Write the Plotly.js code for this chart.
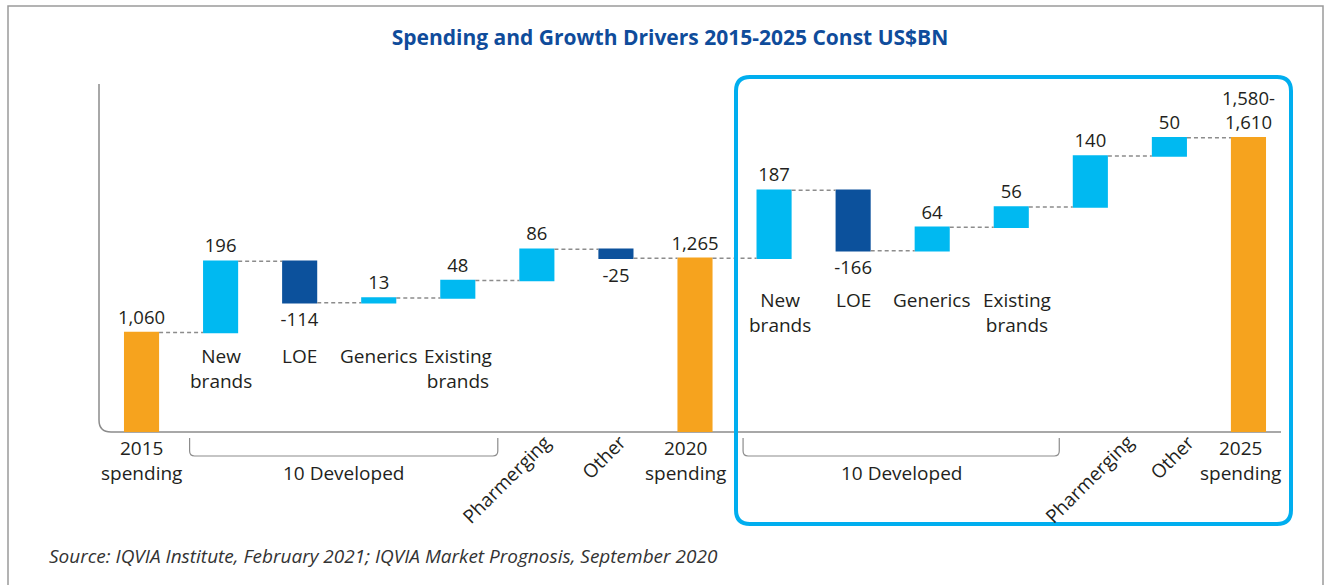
<!DOCTYPE html>
<html>
<head>
<meta charset="utf-8">
<script src="https://cdn.plot.ly/plotly-3.0.1.min.js"></script>
<style>html,body{margin:0;padding:0;background:#fff;}#chart{width:1335px;height:585px;}</style>
</head>
<body>
<div id="chart"></div>
<script>
// ---- data ----
const categories = ["2015\nspending","New\nbrands","LOE","Generics","Existing\nbrands","Pharmerging","Other","2020\nspending",
                    "New\nbrands","LOE","Generics","Existing\nbrands","Pharmerging","Other","2025\nspending"];
const measures = ["absolute","relative","relative","relative","relative","relative","relative","total",
                  "relative","relative","relative","relative","relative","relative","total"];
const values = [1060,196,-114,13,48,86,-25,1265,187,-166,64,56,140,50,1595];
const valueLabels = ["1,060","196","-114","13","48","86","-25","1,265","187","-166","64","56","140","50","1,580-<br>1,610"];
const labelPlacement = ["below","inner1","inner1","inner1","inner1","rotated","rotated","below",
                        "inner2","inner2","inner2","inner2","rotated","rotated","below"];
const groups = [{text:"10 Developed", from:1, to:4},{text:"10 Developed", from:8, to:11}];
const titleText = "Spending and Growth Drivers 2015-2025 Const US$BN";
const sourceText = "Source: IQVIA Institute, February 2021; IQVIA Market Prognosis, September 2020";

// ---- layout helpers (pixel -> paper) ----
const W = 1335, H = 585;
const M = {l:102, r:47, t:70, b:153};
const PW = W - M.l - M.r, PH = H - M.t - M.b;
const px = x => (x - M.l) / PW;
const py = y => (M.t + PH - y) / PH;
const n = categories.length;
const cx = i => M.l + (i + 0.5) * PW / n;

const txtColor = "#231f20";
const font = "Open Sans, sans-serif";
const catSize = 19;
// label horizontal nudges (pixels)
const nudge = {5:-30, 6:-12, 7:-10, 8:6, 10:0, 11:6, 12:-1, 13:3, 14:-8};

const trace = {
  type: "waterfall",
  x: categories.map((c, i) => i),
  y: values,
  measure: measures,
  text: valueLabels,
  textinfo: "text",
  textposition: "outside",
  constraintext: "none",
  cliponaxis: false,
  textfont: {family: font, size: 18.5, color: txtColor},
  increasing: {marker: {color: "#00b9f1"}},
  decreasing: {marker: {color: "#0c519c"}},
  totals: {marker: {color: "#f6a31e"}},
  connector: {mode: "between", line: {color: "#8c8c8c", width: 1.5, dash: "4px,3px"}},
  hoverinfo: "none"
};

const annotations = [];
categories.forEach((c, i) => {
  const t = c.replace("\n", "<br>");
  const kind = labelPlacement[i];
  const dx = nudge[i] || 0;
  if (kind === "below") {
    annotations.push({xref:"paper", yref:"paper", x:px(cx(i)+dx), y:py(433), xanchor:"center", yanchor:"top",
      text:t, showarrow:false, font:{family:font, size:catSize, color:txtColor}});
  } else if (kind === "inner1" || kind === "inner2") {
    const top = kind === "inner1" ? 341 : 285;
    annotations.push({xref:"paper", yref:"paper", x:px(cx(i)+dx), y:py(top), xanchor:"center", yanchor:"top",
      text:t, showarrow:false, font:{family:font, size:catSize, color:txtColor}});
  } else if (kind === "rotated") {
    const isOther = c === "Other";
    const y0 = isOther ? 457 : 479;
    annotations.push({xref:"paper", yref:"paper", x:px(cx(i)+dx), y:py(y0), xanchor:"center", yanchor:"middle",
      textangle:-45, text:t, showarrow:false, font:{family:font, size:catSize, color:txtColor}});
  }
});

const shapes = [];
// group brackets
groups.forEach((g, k) => {
  const l = cx(g.from) - 31, r = cx(g.to) + (k === 0 ? 40 : 48);
  const t = 438, b = 456, rad = 5;
  shapes.push({type:"path", xref:"paper", yref:"paper",
    path:`M ${px(l)},${py(t)} L ${px(l)},${py(b-rad)} Q ${px(l)},${py(b)} ${px(l+rad)},${py(b)} L ${px(r-rad)},${py(b)} Q ${px(r)},${py(b)} ${px(r)},${py(b-rad)} L ${px(r)},${py(t)}`,
    line:{color:"#8c8c8c", width:1.2}});
  annotations.push({xref:"paper", yref:"paper", x:px((l+r)/2), y:py(473), xanchor:"center", yanchor:"middle",
    text:g.text, showarrow:false, font:{family:font, size:catSize, color:txtColor}});
});

// axis line with rounded corner
{
  const x0 = 99, yT = 84, yB = 432, xR = 1281, rad = 12;
  shapes.push({type:"path", xref:"paper", yref:"paper", layer:"below",
    path:`M ${px(x0)},${py(yT)} L ${px(x0)},${py(yB-rad)} Q ${px(x0)},${py(yB)} ${px(x0+rad)},${py(yB)} L ${px(xR)},${py(yB)}`,
    line:{color:"#8c8c8c", width:1.5}});
}
// outer frame
shapes.push({type:"rect", xref:"paper", yref:"paper", x0:px(8), x1:px(1323), y0:py(6), y1:py(620),
  line:{color:"#9a9a9a", width:1.5}, layer:"below"});
// highlight box (rounded)
{
  const l = 736, r = 1291, t = 77, b = 524, rad = 14;
  shapes.push({type:"path", xref:"paper", yref:"paper",
    path:`M ${px(l+rad)},${py(t)} L ${px(r-rad)},${py(t)} Q ${px(r)},${py(t)} ${px(r)},${py(t+rad)} L ${px(r)},${py(b-rad)} Q ${px(r)},${py(b)} ${px(r-rad)},${py(b)} L ${px(l+rad)},${py(b)} Q ${px(l)},${py(b)} ${px(l)},${py(b-rad)} L ${px(l)},${py(t+rad)} Q ${px(l)},${py(t)} ${px(l+rad)},${py(t)} Z`,
    line:{color:"#00aeef", width:4}});
}

annotations.push({xref:"paper", yref:"paper", x:px(47), y:py(556), xanchor:"left", yanchor:"middle",
  text:"<i>"+sourceText+"</i>", showarrow:false, font:{family:font, size:19, color:"#333"}});

const layout = {
  width: W, height: H,
  margin: M,
  paper_bgcolor: "#fff", plot_bgcolor: "rgba(0,0,0,0)",
  showlegend: false,
  waterfallgap: 0.556,
  title: {text: "<b>"+titleText+"</b>", x: 670/W, xanchor:"center", y: 1-38/H, yanchor:"middle",
          font:{family:font, size:21, color:"#0f4c9b"}},
  xaxis: {range:[-0.5, n-0.5], showticklabels:false, showgrid:false, zeroline:false, showline:false, ticks:"", fixedrange:true},
  yaxis: {range:[787, 1781], showticklabels:false, showgrid:false, zeroline:false, showline:false, ticks:"", fixedrange:true},
  annotations: annotations,
  shapes: shapes
};

Plotly.newPlot("chart", [trace], layout, {displayModeBar:false, staticPlot:true});
</script>
</body>
</html>
